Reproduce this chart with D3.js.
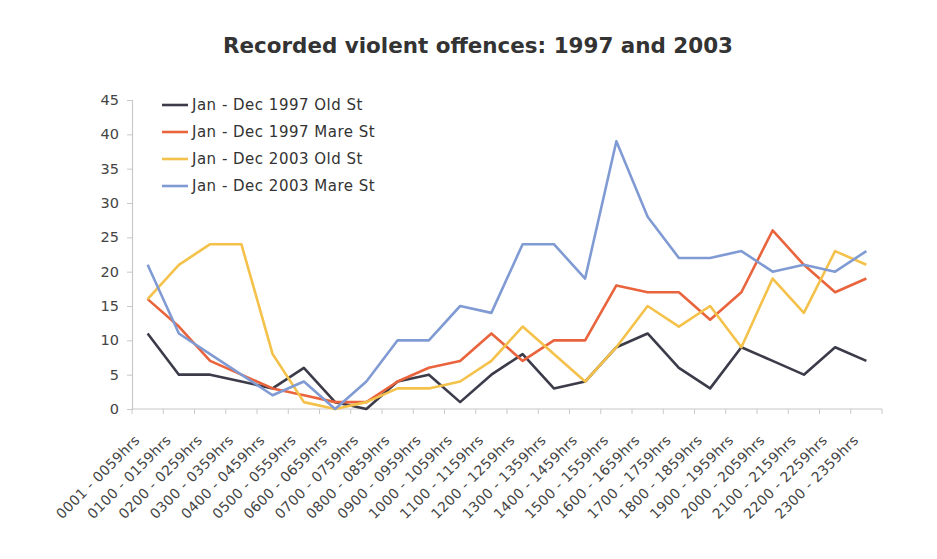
<!DOCTYPE html>
<html>
<head>
<meta charset="utf-8">
<script src="https://cdn.jsdelivr.net/npm/d3@7"></script>
<style>
  html, body { margin: 0; padding: 0; background: #fff; }
  svg { display: block; }
  text { font-family: "DejaVu Sans", "Lato", sans-serif; }
</style>
</head>
<body>
<svg id="chart" width="937" height="559"></svg>
<script>
// Hour bands (categories along the x axis)
const hours = [
  "0001 - 0059hrs", "0100 - 0159hrs", "0200 - 0259hrs", "0300 - 0359hrs",
  "0400 - 0459hrs", "0500 - 0559hrs", "0600 - 0659hrs", "0700 - 0759hrs",
  "0800 - 0859hrs", "0900 - 0959hrs", "1000 - 1059hrs", "1100 - 1159hrs",
  "1200 - 1259hrs", "1300 - 1359hrs", "1400 - 1459hrs", "1500 - 1559hrs",
  "1600 - 1659hrs", "1700 - 1759hrs", "1800 - 1859hrs", "1900 - 1959hrs",
  "2000 - 2059hrs", "2100 - 2159hrs", "2200 - 2259hrs", "2300 - 2359hrs"
];

// Recorded violent offences per hour band
const oldSt1997  = [11, 5, 5, 4, 3, 6, 1, 0, 4, 5, 1, 5, 8, 3, 4, 9, 11, 6, 3, 9, 7, 5, 9, 7];
const mareSt1997 = [16, 12, 7, 5, 3, 2, 1, 1, 4, 6, 7, 11, 7, 10, 10, 18, 17, 17, 13, 17, 26, 21, 17, 19];
const oldSt2003  = [16, 21, 24, 24, 8, 1, 0, 1, 3, 3, 4, 7, 12, 8, 4, 9, 15, 12, 15, 9, 19, 14, 23, 21];
const mareSt2003 = [21, 11, 8, 5, 2, 4, 0, 4, 10, 10, 15, 14, 24, 24, 19, 39, 28, 22, 22, 23, 20, 21, 20, 23];

const seriesNames = [
  "Jan - Dec 1997 Old St",
  "Jan - Dec 1997 Mare St",
  "Jan - Dec 2003 Old St",
  "Jan - Dec 2003 Mare St"
];
const yTicks = [0, 5, 10, 15, 20, 25, 30, 35, 40, 45];
const titleText = "Recorded violent offences: 1997 and 2003";

const colors = ["#3b3b4a", "#e9643c", "#f4c24a", "#809bd3"];
const series = [oldSt1997, mareSt1997, oldSt2003, mareSt2003].map((values, i) => ({
  name: seriesNames[i], values, color: colors[i]
}));

const svg = d3.select("#chart");
const plot = { left: 132, right: 882, top: 100, bottom: 409 };

const x = d3.scaleBand().domain(hours).range([plot.left, plot.right]);
const y = d3.scaleLinear().domain([0, 45]).range([plot.bottom, plot.top]);

// Title
svg.append("text")
  .attr("x", 478).attr("y", 53)
  .attr("text-anchor", "middle")
  .attr("font-size", 21).attr("font-weight", "bold")
  .attr("fill", "#333")
  .attr("textLength", 510).attr("lengthAdjust", "spacingAndGlyphs")
  .text(titleText);

// Y axis
const yAxis = svg.append("g")
  .attr("transform", `translate(${plot.left},0)`)
  .call(d3.axisLeft(y).tickValues(yTicks).tickSize(5).tickPadding(8));
yAxis.select(".domain").attr("stroke", "#c8c8c8").attr("stroke-width", 1.2);
yAxis.selectAll(".tick line").attr("stroke", "#c8c8c8");
yAxis.selectAll(".tick text").attr("font-size", 14.5).attr("fill", "#444");

// X axis: ticks at band boundaries, labels at band centres
const xAxis = svg.append("g")
  .attr("transform", `translate(0,${plot.bottom})`);
xAxis.append("line")
  .attr("x1", plot.left).attr("x2", plot.right)
  .attr("stroke", "#c8c8c8").attr("stroke-width", 1.2);
const bounds = hours.map(h => x(h)).concat([plot.right]);
xAxis.selectAll("line.tk").data(bounds).join("line")
  .attr("class", "tk")
  .attr("x1", d => d).attr("x2", d => d)
  .attr("y1", 0).attr("y2", 5)
  .attr("stroke", "#c8c8c8");
xAxis.selectAll("text.lbl").data(hours).join("text")
  .attr("class", "lbl")
  .attr("transform", d => `translate(${x(d) + x.bandwidth() / 2 - 7},${32}) rotate(-45)`)
  .attr("text-anchor", "end")
  .attr("font-size", 14)
  .attr("letter-spacing", 0.3)
  .attr("fill", "#444")
  .text(d => d);

// Lines
const line = d3.line()
  .x((d, i) => x(hours[i]) + x.bandwidth() / 2)
  .y(d => y(d));

svg.append("g").selectAll("path").data(series).join("path")
  .attr("d", d => line(d.values))
  .attr("fill", "none")
  .attr("stroke", d => d.color)
  .attr("stroke-width", 2.6)
  .attr("stroke-linejoin", "round");

// Legend
const legend = svg.append("g").attr("transform", "translate(162,105)");
const item = legend.selectAll("g").data(series).join("g")
  .attr("transform", (d, i) => `translate(0,${i * 27})`);
item.append("line")
  .attr("x1", 0).attr("x2", 26)
  .attr("stroke", d => d.color).attr("stroke-width", 2.6);
item.append("text")
  .attr("x", 30).attr("y", 5)
  .attr("font-size", 15).attr("letter-spacing", 0.5).attr("fill", "#333")
  .text(d => d.name);
</script>
</body>
</html>
